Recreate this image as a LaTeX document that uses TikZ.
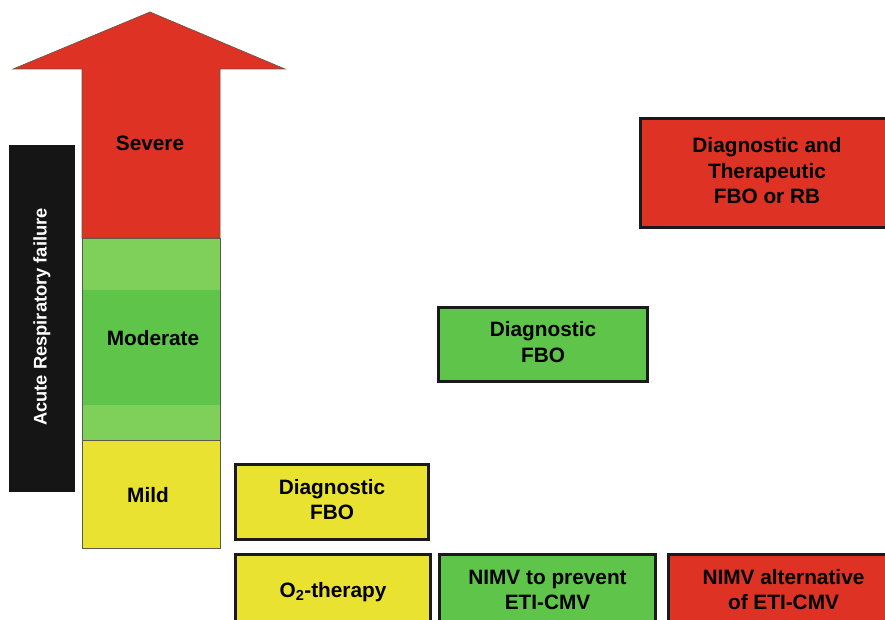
\documentclass[tikz,border=0pt]{standalone}
\usepackage{fontspec}
\setmainfont{Liberation Sans}
\definecolor{sevred}{HTML}{DD3224}
\definecolor{mildyel}{HTML}{EAE230}
\definecolor{modgreen}{HTML}{5EC44A}
\definecolor{lightgreen}{HTML}{7ED05A}
\definecolor{barblack}{HTML}{151515}
\definecolor{edgegray}{HTML}{5A5A4A}
\definecolor{boxedge}{HTML}{1A1A1A}
\tikzset{
  lbl/.style={font=\fontsize{20.8}{25.5}\selectfont\bfseries, text=black, align=center, inner sep=0pt},
  actbox/.style={draw=boxedge, line width=3pt, anchor=north west, inner sep=0pt, lbl},
  band/.style={draw=edgegray, line width=0.6pt}
}
\begin{document}
\begin{tikzpicture}[x=1pt,y=-1pt]
\useasboundingbox (0,0) rectangle (885,620);

% severity arrow: red head and shaft, then green and yellow segments
\draw[band, fill=sevred, line join=miter]
  (82,238) -- (82,69) -- (13,69) -- (150,12) -- (285,69) -- (220,69) -- (220,238) -- cycle;
\fill[lightgreen] (82,238) rectangle (220,440);
\fill[modgreen] (82,290) rectangle (220,405);
\draw[band] (82,238) rectangle (220,440);
\draw[band, fill=mildyel] (82,440) rectangle (220,548);

\node[lbl] (severe) at (150,143) {Severe};
\node[lbl] (moderate) at (153,338) {Moderate};
\node[lbl] (mild) at (148,495) {Mild};

% side bar
\fill[barblack] (9,145) rectangle (75,492);
\node[lbl, text=white, rotate=90, font=\fontsize{18.3}{21}\selectfont\bfseries] (arf) at (42,317) {Acute Respiratory failure};

% interventions (anchors sit on the outer edge of the 3pt border)
\node[actbox, fill=sevred, minimum width=253pt, minimum height=109pt] (therap) at (639,117)
  {\raisebox{15pt}{\begin{tabular}{@{}c@{}}Diagnostic and\\Therapeutic\\FBO or RB\end{tabular}}};
\node[actbox, fill=modgreen, minimum width=209pt, minimum height=74pt] (diagmod) at (437,306)
  {\raisebox{5pt}{\begin{tabular}{@{}c@{}}Diagnostic\\FBO\end{tabular}}};
\node[actbox, fill=mildyel, minimum width=193pt, minimum height=75pt] (diagmild) at (234,463)
  {\raisebox{5pt}{\begin{tabular}{@{}c@{}}Diagnostic\\FBO\end{tabular}}};

\node[actbox, fill=mildyel, minimum width=195pt, minimum height=75pt] (oxy) at (234,553)
  {\raisebox{-6pt}{O\textsubscript{2}-therapy}};
\node[actbox, fill=modgreen, minimum width=216pt, minimum height=75pt] (nimvprev) at (438,553)
  {\begin{tabular}{@{}c@{}}NIMV to prevent\\ETI-CMV\end{tabular}};
\node[actbox, fill=sevred, minimum width=230pt, minimum height=75pt] (nimvalt) at (667,553)
  {\begin{tabular}{@{}c@{}}NIMV alternative\\of ETI-CMV\end{tabular}};
\end{tikzpicture}
\end{document}
